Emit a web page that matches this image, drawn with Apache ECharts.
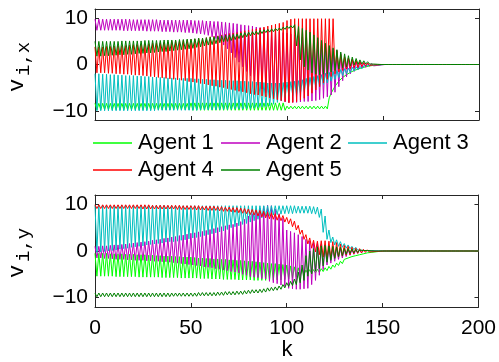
<!DOCTYPE html>
<html>
<head>
<meta charset="utf-8">
<script src="https://cdn.jsdelivr.net/npm/echarts@6/dist/echarts.min.js"></script>
<style>
html,body{margin:0;padding:0;background:#fff;}
#c{width:499px;height:362px;}
</style>
</head>
<body>
<div id="c"></div>
<script>
// ---- Data (k = 0..200) ----
const agentNames = ['Agent 1','Agent 2','Agent 3','Agent 4','Agent 5'];
const agentColors = ['#00FF00','#BF00BF','#00BFBF','#FF0000','#008000'];
const xTicks = [0,50,100,150,200];
const yTicks = [-10,0,10];

// v_{i,x}
const vx1 = [
-8.4,-9.8,-8.4,-9.8,-8.4,-9.8,-8.4,-9.8,-8.4,-9.8,
-8.4,-9.8,-8.4,-9.8,-8.4,-9.8,-8.4,-9.8,-8.4,-9.8,
-8.4,-9.8,-8.4,-9.8,-8.4,-9.8,-8.4,-9.8,-8.4,-9.8,
-8.4,-9.8,-8.4,-9.8,-8.4,-9.8,-8.4,-9.8,-8.4,-9.8,
-8.4,-9.8,-8.4,-9.8,-8.4,-9.8,-8.4,-9.8,-8.4,-9.8,
-8.3,-9.9,-8.3,-9.9,-8.3,-9.9,-8.3,-9.9,-8.3,-9.9,
-8.3,-9.9,-8.3,-9.9,-8.3,-9.9,-8.3,-9.9,-8.3,-9.9,
-8.3,-9.9,-8.3,-9.9,-8.3,-9.9,-8.3,-9.9,-8.3,-9.9,
-8.3,-9.9,-8.3,-9.9,-8.3,-9.9,-8.3,-9.9,-8.3,-9.9,
-8.3,-9.9,-8.3,-9.9,-8.3,-9.9,-8.3,-9.9,-8.3,-9.9,
-9.0,-9.6,-9.0,-9.6,-9.0,-9.6,-9.0,-9.6,-9.0,-9.6,
-9.0,-9.6,-9.0,-9.6,-9.0,-9.6,-9.0,-9.6,-9.0,-9.6,
-9.0,-9.6,
-7.2,-6.2,-5.8,-4.7,-4.6,-3.6,-3.6,-2.8,
-2.9,-2.2,-2.3,-1.7,-1.8,-1.3,-1.4,-1.0,-1.0,-0.7,
-0.7,-0.5,-0.5,-0.3,-0.3,-0.2,-0.2,-0.1,-0.1,0,0,
0,0,0,0,0,0,0,0,0,0,0,0,0,0,0,0,0,0,0,0,0,0,0,0,0,
0,0,0,0,0,0,0,0,0,0,0,0,0,0,0,0,0,0,0,0,0,0,0,0,0
];
const vx2 = [
9.8,7.4,9.8,7.4,9.8,7.4,9.8,7.4,9.8,7.4,
9.8,7.4,9.8,7.4,9.8,7.3,9.8,7.3,9.8,7.3,
9.7,7.3,9.7,7.3,9.7,7.3,9.7,7.2,9.7,7.2,
9.7,7.2,9.7,7.2,9.6,7.1,9.6,7.1,9.6,7.1,
9.6,7.0,9.6,7.0,9.6,7.0,9.6,6.9,9.6,6.9,
9.6,6.8,9.5,6.7,9.5,6.6,9.5,6.5,9.4,6.3,
9.4,6.0,9.3,5.6,9.3,5.0,9.2,4.2,9.1,3.4,
9.0,2.5,8.9,1.5,8.8,0.5,8.6,-0.5,8.5,-1.5,
8.4,-2.5,8.3,-3.5,8.1,-4.5,8.0,-5.3,7.8,-6.1,
7.6,-6.7,7.5,-7.2,7.3,-7.6,7.1,-7.9,6.9,-8.1,
6.8,-8.2,6.6,-8.2,6.4,-8.2,6.2,-8.1,5.9,-8.0,
5.7,-8.0,5.4,-7.9,5.1,-7.8,4.8,-7.6,4.4,-7.3,
4.0,-7.0,3.7,-6.6,3.4,-6.0,3.0,-4.8,2.4,-3.5,
1.7,-2.7,1.4,-2.0,1.1,-1.5,0.8,-1.1,0.6,-0.8,
0.4,-0.6,0.3,-0.4,0.2,-0.3,0.1,-0.2,0.1,-0.1,0,
0,0,0,0,0,0,0,0,0,0,0,0,0,0,0,0,0,0,0,0,0,0,0,0,0,
0,0,0,0,0,0,0,0,0,0,0,0,0,0,0,0,0,0,0,0,0,0,0,0,0
];
const vx3 = [
-2.0,-10.0,-2.0,-10.0,-2.1,-10.0,-2.1,-10.0,-2.2,-10.0,
-2.2,-10.0,-2.3,-10.0,-2.3,-10.0,-2.4,-10.0,-2.4,-10.0,
-2.4,-10.0,-2.5,-10.0,-2.5,-10.0,-2.6,-10.0,-2.6,-10.0,
-2.7,-10.0,-2.7,-9.9,-2.8,-9.9,-2.8,-9.9,-2.9,-9.9,
-2.9,-9.9,-2.9,-9.9,-3.0,-9.9,-3.0,-9.9,-3.0,-9.9,
-3.0,-9.9,-3.1,-9.9,-3.1,-9.8,-3.2,-9.8,-3.2,-9.8,
-3.3,-9.8,-3.3,-9.8,-3.4,-9.7,-3.4,-9.7,-3.4,-9.7,
-3.5,-9.7,-3.5,-9.6,-3.5,-9.6,-3.6,-9.6,-3.6,-9.5,
-3.7,-9.5,-3.7,-9.4,-3.8,-9.3,-3.8,-9.2,-3.9,-9.1,
-4.0,-8.9,-4.0,-8.6,-4.0,-8.2,-4.0,-7.8,-3.9,-7.2,
-3.8,-6.9,-3.7,-6.7,-3.6,-6.5,-3.5,-6.2,-3.3,-5.8,
-3.0,-5.5,-2.8,-5.2,-2.6,-4.9,-2.4,-4.6,-2.2,-4.3,
-1.9,-4.0,-1.7,-3.6,-1.5,-3.2,-1.3,-2.8,-1.1,-2.4,
-0.9,-2.0,-0.8,-1.7,-0.6,-1.4,-0.5,-1.1,-0.4,-0.9,
-0.3,-0.7,-0.2,-0.5,-0.2,-0.4,-0.1,-0.2,-0.1,-0.1,0,
0,0,0,0,0,0,0,0,0,0,0,0,0,0,0,0,0,0,0,0,0,0,0,0,0,
0,0,0,0,0,0,0,0,0,0,0,0,0,0,0,0,0,0,0,0,0,0,0,0,0
];
const vx4 = [
3.8,-1.8,3.8,-1.8,3.8,-1.8,3.9,-1.9,3.9,-1.9,
4.0,-2.0,4.0,-2.0,4.1,-2.1,4.1,-2.1,4.2,-2.2,
4.3,-2.3,4.3,-2.3,4.4,-2.4,4.4,-2.5,4.5,-2.6,
4.6,-2.7,4.6,-2.8,4.7,-2.9,4.8,-3.0,4.9,-3.1,
5.0,-3.2,5.0,-3.3,5.1,-3.4,5.2,-3.5,5.3,-3.7,
5.4,-3.8,5.5,-3.9,5.6,-4.1,5.7,-4.2,5.8,-4.4,
6.0,-4.6,6.1,-4.7,6.2,-4.9,6.4,-5.0,6.5,-5.2,
6.7,-5.4,6.8,-5.6,6.9,-5.8,7.1,-5.9,7.3,-6.1,
7.4,-6.3,7.6,-6.5,7.7,-6.6,7.9,-6.8,8.1,-7.0,
8.3,-7.2,8.5,-7.4,8.7,-7.6,8.9,-7.8,9.1,-8.0,
9.5,-8.3,9.8,-8.2,9.9,-8.0,9.9,-7.7,9.9,-7.3,
9.9,-6.8,9.9,-6.2,9.9,-5.5,9.9,-4.8,9.9,-4.0,
9.9,-3.2,9.9,-2.6,9.9,-2.0,3.0,-1.6,2.2,-1.3,
1.6,-1.0,1.4,-0.9,1.1,-0.7,0.8,-0.6,0.6,-0.4,
0.4,-0.3,0.3,-0.2,0.2,-0.1,0.1,-0.1,0.1,0,0,
0,0,0,0,0,0,0,0,0,0,0,0,0,0,0,0,0,0,0,0,0,0,0,0,0,
0,0,0,0,0,0,0,0,0,0,0,0,0,0,0,0,0,0,0,0,0,0,0,0,0
];
const vx5 = [
5.0,1.8,5.0,1.8,5.0,1.9,5.0,1.9,5.0,2.0,
5.0,2.0,5.0,2.1,5.1,2.1,5.1,2.2,5.1,2.2,
5.1,2.3,5.1,2.4,5.1,2.4,5.2,2.5,5.2,2.5,
5.2,2.6,5.2,2.7,5.2,2.8,5.3,2.8,5.3,2.9,
5.3,3.0,5.3,3.1,5.4,3.2,5.4,3.3,5.5,3.4,
5.5,3.5,5.6,3.7,5.7,3.8,5.7,4.0,5.8,4.2,
5.9,4.3,6.0,4.5,6.1,4.7,6.2,4.9,6.3,5.0,
6.4,5.2,6.5,5.4,6.6,5.6,6.8,5.8,6.9,6.0,
7.0,6.2,7.1,6.4,7.2,6.5,7.4,6.7,7.5,6.9,
7.6,7.0,7.7,7.1,7.8,7.3,7.9,7.4,8.1,7.6,
8.3,7.8,8.4,7.9,8.6,4.0,8.2,1.0,7.8,-0.5,
7.4,-1.2,7.0,-1.8,6.4,-2.1,5.8,-2.2,5.2,-2.1,
4.6,-2.0,4.1,-1.6,3.6,-1.3,3.2,-1.0,2.7,-0.7,
2.3,-0.5,1.9,-0.3,1.6,-0.1,1.3,0.0,1.0,0.1,
0.8,0.1,0.6,0.1,0.4,0.1,0.3,0.05,0.15,0,0.05,
0,0,0,0,0,0,0,0,0,0,0,0,0,0,0,0,0,0,0,0,0,0,0,0,0,
0,0,0,0,0,0,0,0,0,0,0,0,0,0,0,0,0,0,0,0,0,0,0,0,0
];

// v_{i,y}
const vy1 = [
-0.5,-5.4,-0.5,-5.4,-0.5,-5.4,-0.5,-5.4,-0.6,-5.4,
-0.6,-5.5,-0.6,-5.5,-0.6,-5.5,-0.7,-5.5,-0.7,-5.5,
-0.7,-5.5,-0.8,-5.6,-0.8,-5.6,-0.8,-5.6,-0.9,-5.6,
-0.9,-5.6,-1.0,-5.6,-1.0,-5.7,-1.1,-5.7,-1.1,-5.7,
-1.1,-5.7,-1.2,-5.7,-1.2,-5.8,-1.3,-5.8,-1.3,-5.8,
-1.3,-5.8,-1.4,-5.8,-1.5,-5.9,-1.5,-5.9,-1.6,-5.9,
-1.6,-6.0,-1.7,-6.0,-1.7,-6.0,-1.8,-6.1,-1.8,-6.1,
-1.9,-6.1,-1.9,-6.1,-2.0,-6.2,-2.0,-6.2,-2.1,-6.2,
-2.2,-6.2,-2.2,-6.3,-2.3,-6.3,-2.4,-6.3,-2.5,-6.3,
-2.6,-6.3,-2.7,-6.3,-2.7,-6.2,-2.8,-6.2,-2.9,-6.1,
-3.0,-6.0,-3.2,-5.8,-3.4,-5.6,-3.6,-5.3,-3.9,-5.0,
-4.1,-4.8,-4.0,-4.8,-4.0,-4.7,-3.9,-4.6,-3.8,-4.4,
-3.6,-4.2,-3.3,-3.9,-3.0,-3.5,-2.6,-3.1,-2.2,-2.7,
-1.8,-2.2,-1.5,-1.9,-1.2,-1.6,-1.0,-1.3,-0.8,-1.0,
-0.6,-0.8,-0.4,-0.6,-0.3,-0.4,-0.2,-0.3,-0.1,-0.1,0,
0,0,0,0,0,0,0,0,0,0,0,0,0,0,0,0,0,0,0,0,0,0,0,0,0,
0,0,0,0,0,0,0,0,0,0,0,0,0,0,0,0,0,0,0,0,0,0,0,0,0
];
const vy2 = [
1.0,-1.5,1.0,-1.5,1.1,-1.6,1.1,-1.6,1.2,-1.7,
1.3,-1.8,1.3,-1.8,1.4,-1.8,1.5,-1.9,1.6,-1.9,
1.7,-2.0,1.8,-2.0,1.9,-2.0,2.0,-2.1,2.1,-2.1,
2.3,-2.2,2.4,-2.2,2.5,-2.3,2.7,-2.3,2.8,-2.4,
3.0,-2.5,3.1,-2.6,3.3,-2.7,3.4,-2.8,3.6,-2.9,
3.8,-3.0,3.9,-3.1,4.1,-3.2,4.2,-3.4,4.4,-3.5,
4.6,-3.6,4.8,-3.8,5.0,-3.9,5.2,-4.1,5.4,-4.2,
5.6,-4.4,5.7,-4.5,6.0,-4.7,6.3,-5.0,6.8,-5.2,
7.5,-5.5,8.0,-5.6,8.6,-5.7,9.2,-5.9,9.6,-6.0,
9.8,-6.5,9.7,-6.8,9.0,-7.0,8.0,-7.3,7.0,-7.6,
4.5,-8.0,4.2,-8.1,3.9,-8.2,3.5,-8.2,3.1,-8.1,
2.5,-8.0,2.2,-7.2,1.8,-6.3,1.6,-5.2,1.4,-4.0,
1.0,-3.0,0.9,-2.6,0.8,-2.2,0.7,-1.8,0.6,-1.5,
0.4,-1.2,0.4,-0.9,0.3,-0.7,0.2,-0.5,0.2,-0.4,
0.1,-0.3,0.1,-0.2,0.1,-0.1,0.05,-0.05,0,0,0,
0,0,0,0,0,0,0,0,0,0,0,0,0,0,0,0,0,0,0,0,0,0,0,0,0,
0,0,0,0,0,0,0,0,0,0,0,0,0,0,0,0,0,0,0,0,0,0,0,0,0
];
const vy3 = [
9.8,-0.3,9.8,-0.2,9.8,-0.1,9.8,0.0,9.8,0.1,
9.8,0.2,9.8,0.4,9.8,0.5,9.8,0.6,9.8,0.8,
9.8,0.9,9.8,1.0,9.8,1.1,9.8,1.3,9.8,1.4,
9.8,1.5,9.8,1.6,9.8,1.7,9.8,1.9,9.7,2.0,
9.7,2.0,9.7,2.1,9.7,2.3,9.7,2.4,9.7,2.6,
9.7,2.8,9.7,2.9,9.7,3.1,9.7,3.3,9.7,3.5,
9.7,3.7,9.7,3.9,9.7,4.1,9.7,4.3,9.7,4.6,
9.7,5.0,9.7,5.2,9.7,5.4,9.7,5.7,9.7,5.9,
9.7,6.2,9.7,6.5,9.7,6.8,9.7,7.1,9.7,7.4,
9.7,7.6,9.7,7.7,9.7,7.8,9.7,7.9,9.7,8.0,
9.7,8.0,9.7,8.0,9.7,8.1,9.6,8.1,9.6,8.1,
9.6,8.1,9.6,8.0,9.5,7.9,9.4,7.2,9.0,4.0,
7.5,2.5,4.5,1.8,3.0,1.3,2.4,1.0,2.0,0.8,
1.6,0.6,1.3,0.5,1.0,0.3,0.8,0.2,0.6,0.15,
0.4,0.1,0.3,0.05,0.2,0,0.1,0,0.05,0,0,
0,0,0,0,0,0,0,0,0,0,0,0,0,0,0,0,0,0,0,0,0,0,0,0,0,
0,0,0,0,0,0,0,0,0,0,0,0,0,0,0,0,0,0,0,0,0,0,0,0,0
];
const vy4 = [
9.9,9.1,9.9,9.1,9.9,9.1,9.9,9.1,9.9,9.1,
9.9,9.1,9.9,9.1,9.9,9.1,9.9,9.1,9.9,9.1,
9.9,9.1,9.9,9.1,9.9,9.0,9.9,9.0,9.9,9.0,
9.8,9.0,9.8,9.0,9.8,9.0,9.8,9.0,9.8,9.0,
9.8,9.0,9.8,8.9,9.8,8.9,9.7,8.9,9.7,8.9,
9.7,8.9,9.7,8.8,9.7,8.8,9.6,8.8,9.6,8.7,
9.6,8.7,9.6,8.7,9.5,8.6,9.5,8.5,9.4,8.5,
9.4,8.4,9.3,8.3,9.3,8.2,9.2,8.1,9.1,8.0,
9.0,7.8,8.9,7.7,8.8,7.5,8.7,7.3,8.5,7.1,
8.3,6.9,8.2,6.8,8.0,6.6,7.8,6.5,7.6,6.2,
7.2,5.8,6.9,5.2,6.4,4.5,5.5,3.6,4.5,2.5,
3.5,1.5,2.8,0.6,2.3,-0.2,2.1,-0.8,2.2,-1.3,
2.2,-1.6,2.1,-1.6,2.0,-1.5,1.8,-1.3,1.5,-1.1,
1.2,-0.9,1.0,-0.8,0.8,-0.6,0.6,-0.5,0.5,-0.4,
0.35,-0.3,0.25,-0.2,0.2,-0.15,0.1,-0.1,0.05,-0.05,0,
0,0,0,0,0,0,0,0,0,0,0,0,0,0,0,0,0,0,0,0,0,0,0,0,0,
0,0,0,0,0,0,0,0,0,0,0,0,0,0,0,0,0,0,0,0,0,0,0,0,0
];
const vy5 = [
-9.0,-9.8,-9.0,-9.8,-9.0,-9.8,-9.0,-9.8,-9.0,-9.8,
-9.0,-9.8,-9.0,-9.8,-9.0,-9.8,-9.0,-9.8,-9.0,-9.8,
-9.0,-9.8,-9.0,-9.8,-9.0,-9.8,-9.0,-9.8,-9.0,-9.8,
-9.0,-9.8,-9.0,-9.8,-9.0,-9.8,-9.0,-9.8,-9.0,-9.8,
-9.0,-9.7,-9.0,-9.7,-9.0,-9.7,-9.0,-9.7,-9.0,-9.7,
-9.0,-9.7,-9.0,-9.7,-8.9,-9.6,-8.9,-9.6,-8.9,-9.6,
-8.9,-9.6,-8.9,-9.6,-8.8,-9.5,-8.8,-9.5,-8.7,-9.4,
-8.7,-9.4,-8.7,-9.4,-8.6,-9.3,-8.6,-9.3,-8.5,-9.2,
-8.4,-9.1,-8.3,-9.0,-8.3,-9.0,-8.2,-8.9,-8.1,-8.8,
-7.9,-8.6,-7.8,-8.5,-7.7,-8.4,-7.5,-8.2,-7.2,-7.9,
-6.8,-7.6,-6.5,-7.4,-6.0,-7.2,-4.5,-6.8,-3.0,-6.3,
-1.0,-5.4,0.0,-4.9,0.5,-4.3,0.9,-3.8,1.1,-3.2,
1.2,-2.4,1.1,-2.0,1.0,-1.6,0.9,-1.2,0.8,-1.0,
0.6,-0.7,0.5,-0.5,0.4,-0.4,0.3,-0.3,0.2,-0.2,
0.1,-0.1,0.1,-0.1,0.05,-0.05,0,0,0,0,0,
0,0,0,0,0,0,0,0,0,0,0,0,0,0,0,0,0,0,0,0,0,0,0,0,0,
0,0,0,0,0,0,0,0,0,0,0,0,0,0,0,0,0,0,0,0,0,0,0,0,0
];

const vxAll = [vx1, vx2, vx3, vx4, vx5];
const vyAll = [vy1, vy2, vy3, vy4, vy5];

// ---- Chart ----
const AX = '#262626';
const FONT = 'Liberation Sans';

function fmtY(v){ return v < 0 ? '\u2212' + (-v) : String(v); }

function xAxisDef(grid, pos, labels){
  return {
    type:'value', gridIndex:grid, position:pos, min:0, max:200, interval:50,
    axisLine:{show:true, onZero:false, lineStyle:{color:AX, width:1}},
    axisTick:{show:true, inside:true, length:4, customValues:xTicks, lineStyle:{color:AX, width:1}},
    axisLabel:{show:labels, margin:11, fontSize:21, fontFamily:FONT, color:'#000', customValues:xTicks},
    splitLine:{show:false}
  };
}
function yAxisDef(grid, pos, labels){
  return {
    type:'value', gridIndex:grid, position:pos, min:-12, max:12,
    axisLine:{show:true, onZero:false, lineStyle:{color:AX, width:1}},
    axisTick:{show:true, inside:true, length:4, customValues:yTicks, lineStyle:{color:AX, width:1}},
    axisLabel:{show:labels, margin:7, fontSize:21, fontFamily:FONT, color:'#000',
               customValues:yTicks, formatter:fmtY},
    splitLine:{show:false}
  };
}

const series = [];
agentNames.forEach((name, i) => {
  series.push({
    name, type:'line', xAxisIndex:0, yAxisIndex:0,
    data: vxAll[i].map((v, k) => [k, v]),
    symbol:'none', showSymbol:false, silent:true,
    lineStyle:{color:agentColors[i], width:1}, itemStyle:{color:agentColors[i]}
  });
});
agentNames.forEach((name, i) => {
  series.push({
    name, type:'line', xAxisIndex:2, yAxisIndex:2,
    data: vyAll[i].map((v, k) => [k, v]),
    symbol:'none', showSymbol:false, silent:true,
    lineStyle:{color:agentColors[i], width:1}, itemStyle:{color:agentColors[i]}
  });
});

const legendCommon = {
  orient:'horizontal', padding:0, itemWidth:39, itemHeight:1.5, itemGap:0,
  icon:'rect', selectedMode:false,
  textStyle:{fontSize:22, lineHeight:26, fontFamily:FONT, color:'#000', padding:[0,0,0,1]}
};
const legendPos = [[93,130],[221,130],[348,130],[93,157],[221,157]];

const chart = echarts.init(document.getElementById('c'), null, {renderer:'canvas'});
chart.setOption({
  animation:false,
  backgroundColor:'#fff',
  grid:[
    {left:95, top:9, width:384, height:111},
    {left:95, top:195, width:384, height:112}
  ],
  xAxis:[ xAxisDef(0,'bottom',false), xAxisDef(0,'top',false),
          xAxisDef(1,'bottom',true),  xAxisDef(1,'top',false) ],
  yAxis:[ yAxisDef(0,'left',true), yAxisDef(0,'right',false),
          yAxisDef(1,'left',true), yAxisDef(1,'right',false) ],
  legend: agentNames.map((n, i) => Object.assign({}, legendCommon, {
    data:[{name:n, itemStyle:{color:agentColors[i]}}], left:legendPos[i][0], top:legendPos[i][1]
  })),
  series,
  graphic:[
    {type:'text', x:17, y:92, rotation:Math.PI/2,
     style:{text:'v', font:'22px "Liberation Mono"', fill:'#000', textAlign:'left', textVerticalAlign:'middle'}},
    {type:'text', x:24, y:76, rotation:Math.PI/2,
     style:{text:'i,x', font:'19px "Liberation Mono"', fill:'#000', textAlign:'left', textVerticalAlign:'middle'}},
    {type:'text', x:17, y:278, rotation:Math.PI/2,
     style:{text:'v', font:'22px "Liberation Mono"', fill:'#000', textAlign:'left', textVerticalAlign:'middle'}},
    {type:'text', x:24, y:262, rotation:Math.PI/2,
     style:{text:'i,y', font:'19px "Liberation Mono"', fill:'#000', textAlign:'left', textVerticalAlign:'middle'}},
    {type:'text', x:287, y:350,
     style:{text:'k', font:'22px "Liberation Mono"', fill:'#000', textAlign:'center', textVerticalAlign:'middle'}}
  ]
});
</script>
</body>
</html>
